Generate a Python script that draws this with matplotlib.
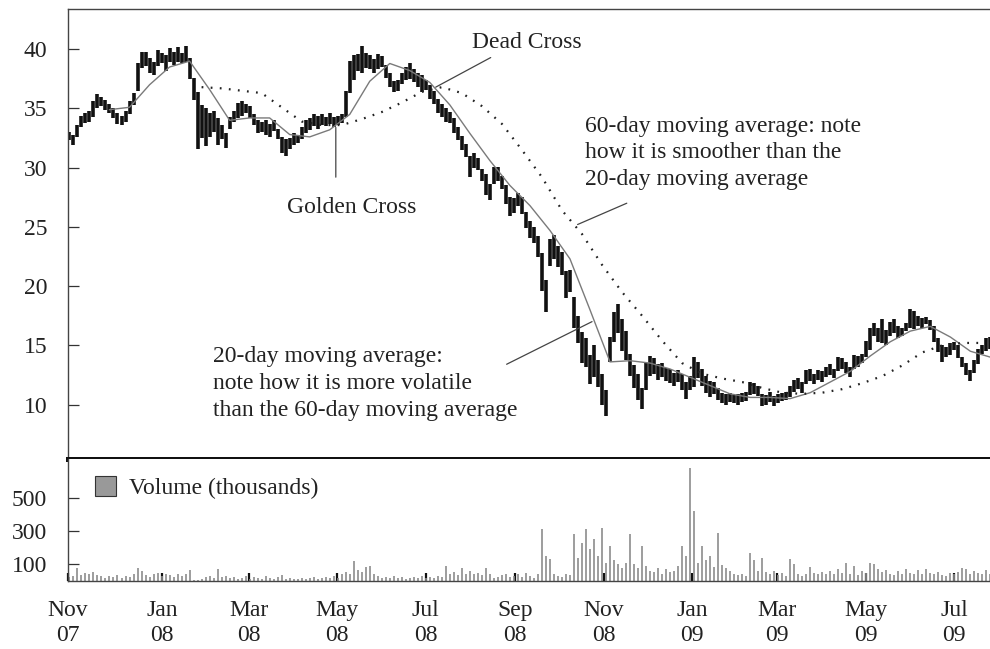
import numpy as np
import matplotlib
matplotlib.use("Agg")
import matplotlib.pyplot as plt
import matplotlib.dates as mdates
from matplotlib.patches import Patch

plt.rcParams['font.family'] = ['Liberation Serif', 'DejaVu Serif']

# --- Data: one bar per ~2 trading days from late Oct 2007 ---

price_low = [
    32.3, 31.9, 32.6, 33.4, 33.8, 33.9, 34.3, 35.0, 35.2, 34.9,
    34.6, 34.2, 33.7, 33.6, 33.9, 34.5, 35.3, 36.5, 38.4, 38.6,
    38.0, 37.8, 38.6, 38.8, 38.2, 38.9, 38.7, 38.9, 38.8, 38.9,
    37.5, 35.7, 31.6, 32.5, 31.8, 32.6, 33.0, 31.9, 32.4, 31.7,
    33.3, 33.9, 34.2, 34.4, 34.6, 34.2, 33.6, 32.9, 33.0, 32.8,
    32.6, 33.1, 32.4, 31.2, 31.0, 31.6, 31.9, 32.1, 32.4, 32.9,
    33.2, 33.5, 33.3, 33.6, 33.5, 33.7, 33.4, 33.6, 33.8, 34.3,
    36.3, 37.4, 38.2, 38.0, 38.4, 38.3, 38.0, 38.3, 38.5, 37.6,
    36.8, 36.4, 36.5, 37.1, 37.4, 37.5, 37.2, 36.8, 36.4, 36.6,
    35.8, 35.4, 34.6, 34.3, 33.9, 33.8, 32.9, 32.3, 31.5, 30.9,
    29.2, 30.0, 29.8, 28.9, 27.7, 27.3, 28.6, 28.9, 28.2, 26.9,
    25.9, 26.2, 26.8, 26.1, 24.9, 24.1, 23.6, 22.5, 19.6, 17.8,
    21.7, 22.3, 21.6, 20.9, 19.0, 19.5, 16.5, 15.2, 13.5, 13.2,
    11.7, 12.3, 11.5, 10.0, 9.0, 13.6, 15.3, 16.0, 14.5, 13.8,
    12.4, 11.4, 10.4, 9.6, 11.2, 12.4, 12.6, 12.1, 12.3, 12.0,
    11.8, 11.6, 11.9, 11.2, 10.5, 11.2, 11.5, 12.2, 11.6, 11.0,
    10.6, 10.9, 10.4, 10.1, 10.0, 10.2, 10.1, 10.0, 10.2, 10.3,
    10.8, 10.9, 10.7, 9.9, 10.0, 10.2, 9.9, 10.1, 10.3, 10.4,
    10.6, 11.1, 11.3, 11.0, 11.7, 12.0, 11.7, 12.1, 11.9, 12.3,
    12.5, 12.2, 12.8, 13.0, 12.7, 12.3, 13.0, 13.2, 13.5, 14.0,
    14.6, 15.8, 15.3, 15.2, 15.0, 15.8, 16.0, 15.6, 15.8, 16.2,
    16.5, 16.4, 16.6, 16.5, 16.8, 16.3, 15.3, 14.4, 13.6, 14.0,
    14.2, 14.6, 13.9, 13.2, 12.5, 12.0, 12.7, 13.4, 14.3, 14.5,
    14.7,
]

price_high = [
    33.0, 32.8, 33.6, 34.4, 34.6, 34.8, 35.6, 36.2, 36.0, 35.7,
    35.4, 35.0, 34.6, 34.4, 34.8, 35.6, 36.3, 38.8, 39.8, 39.8,
    39.3, 38.9, 39.9, 39.7, 39.5, 40.1, 39.8, 40.2, 39.7, 40.3,
    39.3, 37.6, 36.4, 35.3, 35.0, 34.6, 34.8, 34.2, 33.6, 32.9,
    34.3, 34.8, 35.5, 35.6, 35.4, 35.2, 34.5, 34.0, 33.9, 34.0,
    33.7, 34.0, 33.3, 32.6, 32.4, 32.5, 32.9, 32.8, 33.4, 34.0,
    34.2, 34.5, 34.4, 34.5, 34.3, 34.6, 34.3, 34.4, 34.5, 36.5,
    39.0, 39.5, 39.6, 40.3, 39.7, 39.5, 39.2, 39.6, 39.4, 38.7,
    38.0, 37.3, 37.4, 38.0, 38.5, 38.8, 38.3, 38.0, 37.8, 37.4,
    37.0, 36.5, 35.8, 35.4, 35.0, 34.7, 34.2, 33.4, 32.7, 32.0,
    31.0, 31.2, 30.8, 29.9, 29.5, 28.6, 30.1, 30.1, 29.3, 28.5,
    27.5, 27.4, 27.9, 27.5, 26.3, 25.5, 25.0, 24.2, 22.8, 20.5,
    24.0, 24.3, 23.4, 22.9, 21.3, 21.4, 19.1, 17.5, 16.1, 15.6,
    14.2, 15.0, 13.8, 12.6, 11.2, 15.7, 17.8, 18.5, 17.2, 16.2,
    14.3, 13.3, 12.6, 11.4, 13.5, 14.1, 13.9, 13.4, 13.5, 13.1,
    13.0, 12.7, 12.9, 12.6, 11.9, 12.4, 14.0, 13.6, 13.0, 12.4,
    12.0, 11.9, 11.4, 11.0, 10.9, 11.0, 10.8, 10.9, 11.0, 11.1,
    11.9, 11.8, 11.6, 10.9, 10.8, 11.1, 10.7, 10.9, 11.0, 11.1,
    11.6, 12.1, 12.2, 11.9, 12.9, 13.0, 12.6, 12.9, 12.8, 13.2,
    13.4, 13.0, 14.0, 13.9, 13.6, 13.2, 14.2, 14.1, 14.3, 15.4,
    16.5, 16.9, 16.5, 17.2, 16.3, 17.0, 17.2, 16.6, 16.5, 16.9,
    18.1, 17.9, 17.5, 17.3, 17.4, 17.1, 16.6, 15.6, 15.0, 14.9,
    15.2, 15.3, 15.0, 14.0, 13.5, 12.9, 13.8, 14.7, 15.0, 15.6,
    15.7,
]

volume = [
    25, 30, 80, 35, 50, 40, 55, 35, 30, 20,
    30, 25, 35, 20, 30, 25, 45, 80, 60, 35,
    25, 40, 50, 30, 45, 35, 25, 40, 30, 45,
    65, 5, 5, 10, 25, 30, 20, 70, 25, 30,
    20, 25, 15, 20, 30, 15, 25, 20, 15, 30,
    20, 15, 25, 35, 15, 20, 10, 15, 20, 15,
    20, 25, 15, 20, 25, 20, 30, 20, 40, 55,
    45, 120, 65, 55, 85, 90, 40, 30, 20, 25,
    20, 30, 20, 25, 15, 20, 25, 20, 30, 20,
    25, 20, 30, 25, 90, 40, 55, 35, 80, 45,
    60, 40, 50, 35, 80, 45, 20, 25, 35, 40,
    25, 30, 40, 25, 50, 30, 20, 45, 315, 150,
    135, 45, 30, 25, 40, 35, 285, 140, 230, 315,
    195, 255, 150, 320, 110, 210, 130, 100, 80, 110,
    285, 100, 80, 215, 90, 60, 55, 80, 45, 70,
    55, 60, 90, 215, 150, 685, 425, 110, 210, 130,
    150, 85, 290, 95, 80, 60, 45, 35, 40, 30,
    170, 130, 60, 140, 55, 45, 60, 35, 50, 30,
    135, 105, 40, 30, 45, 85, 50, 40, 55, 45,
    60, 40, 70, 50, 110, 45, 90, 35, 60, 50,
    110, 105, 70, 55, 65, 40, 35, 60, 45, 70,
    50, 40, 65, 45, 70, 50, 40, 55, 35, 30,
    50, 40, 55, 80, 70, 45, 60, 50, 40, 65,
    45,
]

# moving averages, read every 5th bar
ma20_start = 10
ma20 = [34.9, 35.1, 37.0, 38.5, 39.0, 36.6, 34.0, 34.2, 34.2, 32.8,
        32.6, 33.2, 34.5, 37.3, 38.8, 38.2, 37.2, 35.3, 32.9, 30.6,
        28.5, 26.8, 24.7, 22.3, 18.0, 13.6, 13.7, 13.5, 13.0, 12.3,
        11.6, 10.9, 10.6, 10.6, 10.5, 11.0, 11.9, 12.8, 14.1, 15.3,
        16.2, 16.6, 15.7, 14.5, 14.0]
ma60_start = 33
ma60 = [36.8, 36.7, 36.5, 36.3, 35.1, 33.9, 33.6, 33.6, 34.1, 34.7,
        35.5, 36.4, 36.8, 36.3, 35.2, 33.7, 31.5, 29.2, 26.4, 24.4,
        21.8, 19.5, 17.5, 15.4, 13.5, 12.6, 12.2, 11.9, 11.4, 11.0,
        10.9, 11.0, 11.3, 11.8, 12.4, 13.3, 14.4, 15.0, 15.2, 15.2]

month_ticks = ['2007-10-28', '2008-01-01', '2008-03-01', '2008-05-01', '2008-07-01',
               '2008-09-01', '2008-11-01', '2009-01-01', '2009-03-01', '2009-05-01',
               '2009-07-01']
month_labels = ['Nov\n07', 'Jan\n08', 'Mar\n08', 'May\n08', 'Jul\n08', 'Sep\n08',
                'Nov\n08', 'Jan\n09', 'Mar\n09', 'May\n09', 'Jul\n09']

# --- Layout ---
BAR_DAYS = 2.766          # calendar days between plotted bars
x0 = mdates.date2num(np.datetime64('2007-10-29'))
bar_x = x0 + np.arange(len(price_high)) * BAR_DAYS
ma20_x = bar_x[ma20_start::5][:len(ma20)]
ma60_x = bar_x[ma60_start::5][:len(ma60)]
xmin, xmax = x0 - 1, x0 - 1 + 637.6

TXT = '#222222'
FS = 17

fig = plt.figure(figsize=(9.9, 6.49), dpi=100)
ax = fig.add_axes([68 / 990, 1 - 459 / 649, 923 / 990, 450 / 649])
axv = fig.add_axes([68 / 990, 1 - 581 / 649, 923 / 990, 122 / 649])

# --- Price panel ---
ax.vlines(bar_x, price_low, price_high, color='#111111', lw=2.6)
ax.plot(ma20_x, ma20, color='#7a7a7a', lw=1.0)
ax.plot(ma60_x, ma60, color='#222222', lw=1.6, linestyle=(0, (0.8, 3.3)),
        dash_capstyle='butt')

ax.set_xlim(xmin, xmax)
ax.set_ylim(5.4, 43.4)
ax.set_yticks([10, 15, 20, 25, 30, 35, 40])
ax.tick_params(axis='y', direction='in', length=8, width=0.9, color='#333333',
               labelsize=FS, labelcolor=TXT, pad=15)
ax.tick_params(axis='x', bottom=False, labelbottom=False)
ax.spines['right'].set_visible(False)
for s in ('top', 'left'):
    ax.spines[s].set_color('#444444')
    ax.spines[s].set_linewidth(1.0)
ax.spines['bottom'].set_color('#111111')
ax.spines['bottom'].set_linewidth(3.6)

def d(s):
    return mdates.date2num(np.datetime64(s))

line_kw = dict(arrowstyle='-', color='#444444', lw=0.9, shrinkA=0, shrinkB=0)

ax.annotate('', xy=(d('2008-07-08'), 36.8), xytext=(d('2008-08-15'), 39.3),
            arrowprops=line_kw)
ax.text(d('2008-09-09'), 40.6, 'Dead Cross', fontsize=FS, color=TXT,
        ha='center', va='center')

ax.annotate('', xy=(d('2008-04-30'), 33.4), xytext=(d('2008-04-30'), 29.2),
            arrowprops=line_kw)
ax.text(d('2008-05-11'), 26.6, 'Golden Cross', fontsize=FS, color=TXT,
        ha='center', va='center')

ax.annotate('', xy=(d('2008-10-14'), 25.2), xytext=(d('2008-11-17'), 27.0),
            arrowprops=line_kw)
ax.text(d('2008-10-19'), 34.4,
        '60-day moving average: note\nhow it is smoother than the\n20-day moving average',
        fontsize=FS, color=TXT, ha='left', va='top', linespacing=1.37)

ax.annotate('', xy=(d('2008-10-24'), 17.0), xytext=(d('2008-08-26'), 13.4),
            arrowprops=line_kw)
ax.text(d('2008-02-05'), 14.95,
        '20-day moving average:\nnote how it is more volatile\nthan the 60-day moving average',
        fontsize=FS, color=TXT, ha='left', va='top', linespacing=1.37)

# --- Volume panel ---
axv.vlines(bar_x, 0, volume, color='#8c8c8c', lw=1.2)
axv.set_xlim(xmin, xmax)
axv.set_ylim(0, 739)
axv.set_yticks([100, 300, 500])
axv.tick_params(axis='y', direction='in', length=8, width=0.9, color='#333333',
                labelsize=FS, labelcolor=TXT, pad=15)
axv.set_xticks([d(m) for m in month_ticks])
axv.set_xticklabels(month_labels, linespacing=1.2)
axv.tick_params(axis='x', direction='in', length=6, width=1.6, color='#111111',
                labelsize=FS, labelcolor=TXT, pad=14)
for s in ('top', 'right'):
    axv.spines[s].set_visible(False)
for s in ('left', 'bottom'):
    axv.spines[s].set_color('#444444')
    axv.spines[s].set_linewidth(1.0)

vol_handle = Patch(facecolor='#999999', edgecolor='#333333', lw=0.8,
                   label='Volume (thousands)')
axv.legend(handles=[vol_handle], loc='upper left', bbox_to_anchor=(0.029, 0.86),
           frameon=False, fontsize=FS, borderpad=0, borderaxespad=0,
           handlelength=0.9, handleheight=0.9, handletextpad=0.55,
           labelcolor=TXT)

fig.savefig('out.png', dpi=100)
